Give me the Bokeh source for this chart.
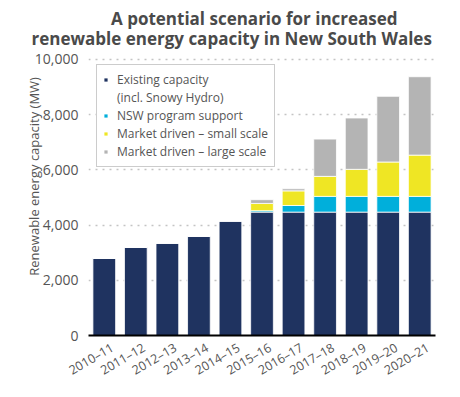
import math
from bokeh.plotting import figure
from bokeh.models import (ColumnDataSource, Range1d, FixedTicker, LinearAxis,
                          NumeralTickFormatter, Legend, LegendItem)
from bokeh.embed import file_html
from bokeh.resources import INLINE

years = ["2010–11", "2011–12", "2012–13", "2013–14", "2014–15", "2015–16",
         "2016–17", "2017–18", "2018–19", "2019–20", "2020–21"]
existing = [2800, 3200, 3350, 3600, 4150, 4470, 4470, 4470, 4470, 4470, 4470]
nsw_support = [0, 0, 0, 0, 0, 50, 240, 570, 570, 570, 570]
small_scale = [0, 0, 0, 0, 0, 265, 530, 725, 980, 1245, 1495]
large_scale = [0, 0, 0, 0, 0, 135, 75, 1350, 1860, 2380, 2840]
y_ticks = [0, 2000, 4000, 6000, 8000, 10000]

series = ["existing", "nsw", "small", "large"]
colors = ["#1f3360", "#00afdb", "#efe624", "#b4b4b4"]
labels = ["Existing capacity", "NSW program support",
          "Market driven – small scale", "Market driven – large scale"]

idx = list(range(len(years)))
src = ColumnDataSource(dict(x=idx, existing=existing, nsw=nsw_support,
                            small=small_scale, large=large_scale))

FONT = "Open Sans"
TXT = "#555555"
NB = "\u00a0"

p = figure(x_range=Range1d(-0.5, len(years) - 0.5),
           y_range=Range1d(0, 10180),
           frame_width=347, frame_height=281,
           min_border_left=88, min_border_top=45, min_border_right=10,
           min_border_bottom=50,
           output_backend="svg", toolbar_location=None,
           background_fill_color="white", border_fill_color="white")
p.outline_line_color = None

# two-line title
p.title.text = (NB * 18 + "A potential scenario for increased\n" +
                "renewable energy capacity in New South Wales")
p.title.align = "left"
p.title.offset = -57
p.title.text_font = FONT
p.title.text_font_size = "17px"
p.title.text_font_style = "bold"
p.title.text_color = "#4a4a4a"
p.title.text_line_height = 0.9
p.title.standoff = 8

rs = p.vbar_stack(series, x="x", width=0.72, color=colors, source=src,
                  line_color="white", line_width=0.8)

# dummy renderer for the second legend line
dummy = p.vbar(x=[idx[0]], top=[0], width=0.1, fill_alpha=0, line_alpha=0)

items = [LegendItem(label=labels[0], renderers=[rs[0]]),
         LegendItem(label="(incl. Snowy Hydro)", renderers=[dummy]),
         LegendItem(label=labels[1], renderers=[rs[1]]),
         LegendItem(label=labels[2], renderers=[rs[2]]),
         LegendItem(label=labels[3], renderers=[rs[3]])]
legend = Legend(items=items, location=(8, 168), margin=0, padding=6,
                spacing=1, label_height=12, glyph_height=5, glyph_width=5,
                label_standoff=9, label_text_font=FONT,
                label_text_font_size="12px", label_text_color=TXT,
                border_line_color="#9a9a9a", border_line_width=1.5,
                background_fill_color="white", background_fill_alpha=1)
p.add_layout(legend, "center")

# y axis
p.yaxis.ticker = FixedTicker(ticks=y_ticks)
p.yaxis.formatter = NumeralTickFormatter(format="0,0")
p.yaxis.axis_line_color = None
p.yaxis.major_tick_line_color = None
p.yaxis.minor_tick_line_color = None
p.yaxis.major_label_standoff = 4
p.yaxis.major_label_text_font = FONT
p.yaxis.major_label_text_font_size = "14px"
p.yaxis.major_label_text_color = TXT
p.yaxis.axis_label = NB * 11 + "Renewable energy capacity (MW)"
p.yaxis.axis_label_standoff = -11
p.yaxis.axis_label_text_font = FONT
p.yaxis.axis_label_text_font_size = "13px"
p.yaxis.axis_label_text_font_style = "normal"
p.yaxis.axis_label_text_color = TXT

# x axis: labels sit slightly right of each bar, as in the original
p.xaxis.visible = False
shift = 0.26
p.extra_x_ranges = {"lab": Range1d(-0.5 - shift, len(years) - 0.5 - shift)}
xax = LinearAxis(x_range_name="lab", ticker=FixedTicker(ticks=idx),
                 major_label_overrides={i: y for i, y in zip(idx, years)})
xax.axis_line_color = "black"
xax.axis_line_width = 2
xax.major_tick_line_color = None
xax.minor_tick_line_color = None
xax.major_label_orientation = math.pi / 6
xax.major_label_standoff = 5
xax.major_label_text_font = FONT
xax.major_label_text_font_size = "12.5px"
xax.major_label_text_color = TXT
p.add_layout(xax, "below")

p.xgrid.grid_line_color = None
p.ygrid.grid_line_color = "#c4c4c4"
p.ygrid.grid_line_dash = "2 5"
p.ygrid.grid_line_width = 1.5

open("out.html", "w").write(file_html(p, INLINE))
